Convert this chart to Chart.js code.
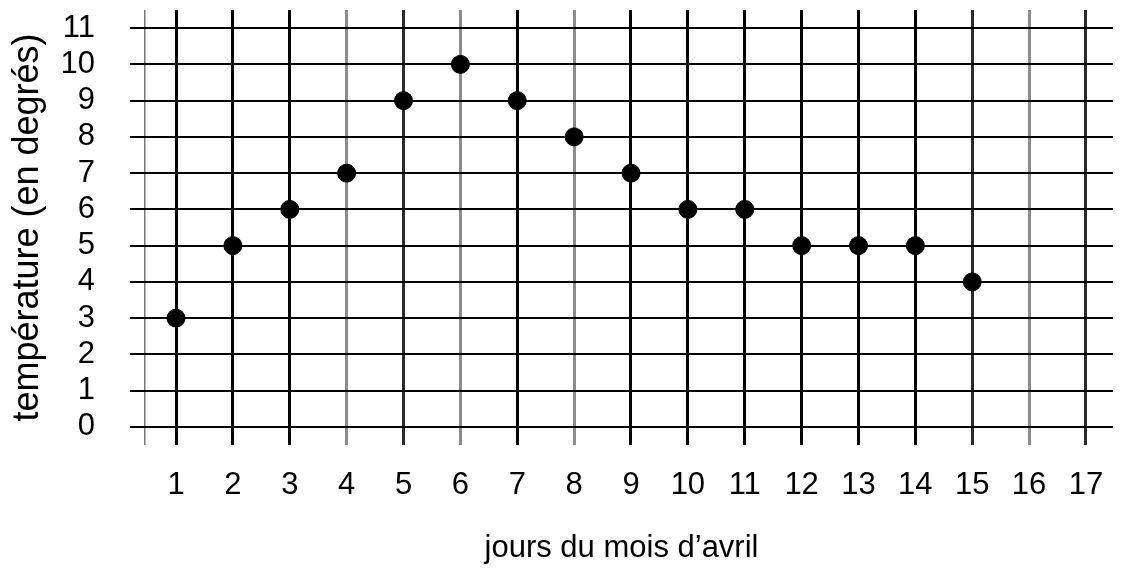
<!DOCTYPE html>
<html>
<head>
<meta charset="utf-8">
<script src="https://cdn.jsdelivr.net/npm/chart.js@4"></script>
<style>
  html, body { margin: 0; padding: 0; background: #fff; overflow: hidden; }
  #wrap { width: 1123px; height: 571px; }
</style>
</head>
<body>
<div id="wrap"><canvas id="myChart"></canvas></div>
<script>
const days = [1, 2, 3, 4, 5, 6, 7, 8, 9, 10, 11, 12, 13, 14, 15];
const temps = [3, 5, 6, 7, 9, 10, 9, 8, 7, 6, 6, 5, 5, 5, 4];
const xTicks = [1, 2, 3, 4, 5, 6, 7, 8, 9, 10, 11, 12, 13, 14, 15, 16, 17];
const yTicks = [0, 1, 2, 3, 4, 5, 6, 7, 8, 9, 10, 11];
const xTitle = 'jours du mois d’avril';
const yTitle = 'température (en degrés)';

const grayDays = [4, 6, 8, 16];   // lighter lines in the scan
const darkDays = [5, 15, 17];
const leftEdge = 0.455;           // thin line left of day 1

const font = "'Liberation Sans', Arial, sans-serif";

function noPadding(scale) {
    scale.paddingLeft = 0;
    scale.paddingRight = 0;
    scale.paddingTop = 0;
    scale.paddingBottom = 0;
}

const ctx = document.getElementById('myChart').getContext('2d');
const myChart = new Chart(ctx, {
    type: 'scatter',
    data: {
        datasets: [{
            data: days.map((d, i) => ({ x: d, y: temps[i] })),
            backgroundColor: '#000',
            borderColor: '#000',
            pointRadius: 9,
            pointHoverRadius: 9
        }]
    },
    options: {
        responsive: true,
        maintainAspectRatio: false,
        animation: false,
        layout: { padding: { top: 10, right: 0, left: 0, bottom: 0 } },
        plugins: { legend: { display: false }, tooltip: { enabled: false } },
        scales: {
            x: {
                type: 'linear',
                min: 0.191,
                max: 17.475,
                afterBuildTicks: scale => {
                    scale.ticks = [leftEdge, ...xTicks].map(v => ({ value: v }));
                },
                afterFit: scale => {
                    scale.height = 126;
                    noPadding(scale);
                },
                border: { display: false },
                grid: {
                    drawTicks: false,
                    color: c => {
                        const v = c.tick ? c.tick.value : 0;
                        if (v === leftEdge) return '#777';
                        if (grayDays.includes(v)) return '#8c8c8c';
                        if (darkDays.includes(v)) return '#2a2a2a';
                        return '#000';
                    },
                    lineWidth: c => (c.tick && c.tick.value === leftEdge) ? 1.5 : 3
                },
                ticks: {
                    padding: 22,
                    color: '#000',
                    font: { family: font, size: 31 },
                    autoSkip: false,
                    maxRotation: 0,
                    callback: v => Number.isInteger(v) ? String(v) : ''
                },
                title: {
                    display: true,
                    text: xTitle,
                    color: '#000',
                    font: { family: font, size: 31 },
                    padding: { top: 0, bottom: 4 }
                }
            },
            y: {
                type: 'linear',
                min: -0.5,
                max: 11.5,
                afterBuildTicks: scale => {
                    scale.ticks = yTicks.map(v => ({ value: v }));
                },
                afterFit: scale => {
                    scale.width = 130;
                    noPadding(scale);
                },
                border: { display: false },
                grid: {
                    drawTicks: false,
                    color: '#000',
                    lineWidth: 2
                },
                ticks: {
                    padding: 35,
                    color: '#000',
                    font: { family: font, size: 31 },
                    autoSkip: false,
                    callback: v => String(v)
                },
                title: {
                    display: true,
                    text: yTitle,
                    color: '#000',
                    font: { family: font, size: 36 },
                    padding: { top: 6, bottom: 0 }
                }
            }
        }
    }
});
</script>
</body>
</html>
